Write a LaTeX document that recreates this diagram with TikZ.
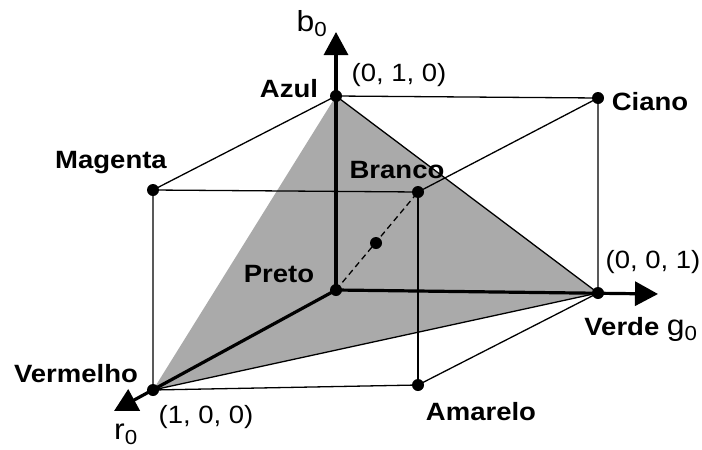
\documentclass[tikz,border=0pt]{standalone}
\usepackage{fontspec}
\setmainfont[FakeStretch=1.1]{Liberation Sans}
\usetikzlibrary{arrows.meta}
\definecolor{FlaecheGrau}{HTML}{AAAAAA}

\begin{document}
\begin{tikzpicture}[x=1pt, y=-1pt,
  kante/.style={line width=1.3pt},
  achse/.style={line width=3.2pt, -{Triangle[length=23pt, width=24pt]}},
  farbname/.style={anchor=base, inner sep=0pt, font=\bfseries\fontsize{25}{28}\selectfont},
  koord/.style={anchor=base, inner sep=0pt, font=\fontsize{25}{28}\selectfont},
  achsname/.style={anchor=base, inner sep=0pt, font=\fontsize{29}{32}\selectfont}]

  % Rahmen
  \useasboundingbox (0,0) rectangle (702,450);

  % Ecken des Wuerfels
  \coordinate (preto)    at (336,290);
  \coordinate (azul)     at (336,96);
  \coordinate (verde)    at (598,293);
  \coordinate (vermelho) at (153,390);
  \coordinate (magenta)  at (153,190);
  \coordinate (branco)   at (418,192);
  \coordinate (ciano)    at (598,98);
  \coordinate (amarelo)  at (418,385);
  \coordinate (mitte)    at (376,243);

  % Spitzen der Achsen
  \coordinate (btip) at (336,32);
  \coordinate (gtip) at (658,294);
  \coordinate (rtip) at (114,411);

  % Graue Ebene
  \fill[FlaecheGrau] (azul) -- (verde) -- (vermelho) -- cycle;

  % Kanten
  \draw[kante] (azul) -- (ciano) -- (verde);
  \draw[kante] (azul) -- (magenta) -- (branco) -- (ciano);
  \draw[kante] (magenta) -- (vermelho) -- (amarelo) -- (verde);
  \draw[kante] (branco) -- (amarelo);
  \draw[kante] (azul) -- (verde);
  \draw[kante] (vermelho) -- (verde);
  \draw[kante, dash pattern=on 6pt off 4pt] (preto) -- (branco);

  % Achsen
  \draw[achse] (preto) -- (btip);
  \draw[achse] (preto) -- (gtip);
  \draw[achse] (preto) -- (rtip);

  % Punkte
  \foreach \p in {preto, azul, verde, vermelho, magenta, branco, ciano, amarelo, mitte}
    \fill (\p) circle (6pt);

  % Beschriftung
  \node[farbname] (tAzul)     at (289,97)  {Azul};
  \node[farbname] (tMagenta)  at (111,168) {Magenta};
  \node[farbname] (tBranco)   at (397,178) {Branco};
  \node[farbname] (tCiano)    at (650,110) {Ciano};
  \node[farbname] (tPreto)    at (279,282) {Preto};
  \node[farbname] (tVermelho) at (76,382)  {Vermelho};
  \node[farbname] (tAmarelo)  at (481,420) {Amarelo};
  \node[farbname] (tVerde)    at (641,335) {Verde {\mdseries\fontsize{29}{32}\selectfont g\textsubscript{0}}};

  \node[koord] (k010) at (399,81)  {(0, 1, 0)};
  \node[koord] (k001) at (653,268) {(0, 0, 1)};
  \node[koord] (k100) at (206,423) {(1, 0, 0)};
  \node[achsname] (tb) at (312,31)  {b\textsubscript{0}};
  \node[achsname] (tr) at (126,439) {r\textsubscript{0}};

\end{tikzpicture}
\end{document}
